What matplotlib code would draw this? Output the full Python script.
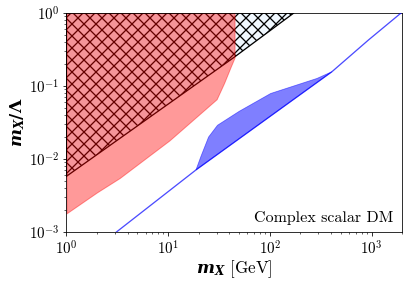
import numpy as np
import matplotlib
matplotlib.use("Agg")
import matplotlib.pyplot as plt

plt.rcParams['font.family'] = ['cmr10']
plt.rcParams['mathtext.fontset'] = 'cm'
plt.rcParams['axes.formatter.use_mathtext'] = True
plt.rcParams['hatch.linewidth'] = 1.3

# hatched excluded region (lower boundary)
hatch_x = [1.0, 45.0, 172.0]
hatch_y = [0.0058, 0.25, 1.0]

# red region lower boundary
red_x = [1.0, 2.0, 3.34, 10.3, 30.0, 35.5, 41.0, 45.0]
red_y = [0.0018, 0.0035, 0.0055, 0.018, 0.066, 0.11, 0.18, 0.245]

# blue relic line
line_x = [3.1, 18.8, 408.0, 933.0, 1950.0]
line_y = [0.001, 0.0071, 0.157, 0.427, 1.0]

# blue band upper edge
band_up_x = [18.8, 21.0, 25.0, 30.6, 50.0, 102.0, 291.0, 408.0]
band_up_y = [0.0071, 0.0108, 0.020, 0.029, 0.045, 0.079, 0.127, 0.157]
band_lo_x = [408.0, 18.8]
band_lo_y = [0.157, 0.0071]

fig = plt.figure(figsize=(415/72, 283/72), dpi=72)
ax = fig.add_axes([0.160, 0.180, 0.809, 0.774])

ax.fill_between(hatch_x, hatch_y, 1.0, facecolor='aliceblue', edgecolor='black',
                hatch='xx', linewidth=1.3, zorder=1)
ax.fill_between(red_x, red_y, 1.0, color='red', alpha=0.4, linewidth=1.0, zorder=2)
ax.fill(band_up_x + band_lo_x, band_up_y + band_lo_y, color='blue', alpha=0.5,
        linewidth=0.8, zorder=3)
ax.plot(line_x, line_y, color='blue', alpha=0.7, linewidth=1.3, zorder=4)

ax.set_xscale('log')
ax.set_yscale('log')
ax.set_xlim(1, 2000)
ax.set_ylim(1e-3, 1)
ax.tick_params(labelsize=15)
ax.set_xlabel(r'$\mathbfit{m}_{\mathbfit{X}}$ [GeV]', fontsize=17, labelpad=1,
              math_fontfamily='dejavuserif')
ax.set_ylabel(r'$\mathbfit{m}_{\mathbfit{X}}\mathbf{/\Lambda}$', fontsize=17,
              labelpad=2, math_fontfamily='dejavuserif')
ax.text(0.975, 0.03, 'Complex scalar DM', transform=ax.transAxes, ha='right',
        va='bottom', fontsize=16)

fig.savefig('out.png', dpi=72)
